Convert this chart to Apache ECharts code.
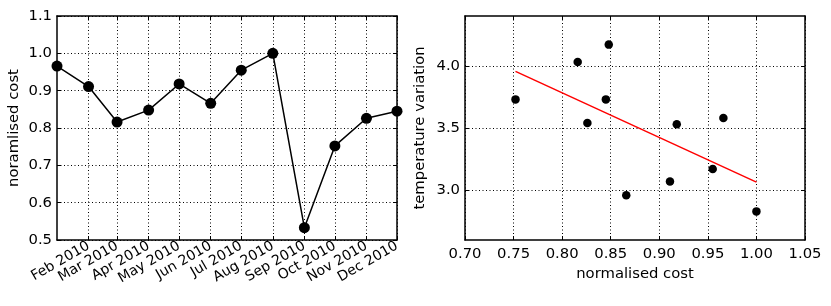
<!DOCTYPE html>
<html>
<head>
<meta charset="utf-8">
<script src="https://cdn.jsdelivr.net/npm/echarts@6/dist/echarts.min.js"></script>
<style>
html,body{margin:0;padding:0;background:#fff;}
#chart{width:831px;height:306px;}
</style>
</head>
<body>
<div id="chart"></div>
<script>
// ---- data ----
const months = ['2010-01-01','2010-02-01','2010-03-01','2010-04-01','2010-05-01','2010-06-01',
                '2010-07-01','2010-08-01','2010-09-01','2010-10-01','2010-11-01','2010-12-01'];
const costs = [0.966, 0.911, 0.816, 0.848, 0.918, 0.866, 0.955, 1.000, 0.533, 0.752, 0.826, 0.845];
const tempVariation = [3.58, 3.07, 4.03, 4.17, 3.53, 2.96, 3.17, 2.83, null, 3.73, 3.54, 3.73];
const fitX = [0.752, 1.000];
const fitY = [3.955, 3.065];
const monthTickDates = ['2010-02-01','2010-03-01','2010-04-01','2010-05-01','2010-06-01','2010-07-01',
                        '2010-08-01','2010-09-01','2010-10-01','2010-11-01','2010-12-01'];
const monthTickLabels = ['Feb 2010','Mar 2010','Apr 2010','May 2010','Jun 2010','Jul 2010',
                         'Aug 2010','Sep 2010','Oct 2010','Nov 2010','Dec 2010'];
const costTicks = [0.70, 0.75, 0.80, 0.85, 0.90, 0.95, 1.00, 1.05];
const tempTicks = [3.0, 3.5, 4.0];

// ---- build ----
function ts(s){ const p = s.split('-').map(Number); return Date.UTC(p[0], p[1]-1, p[2]); }
const monthTs = months.map(ts);
const tickTs = monthTickDates.map(ts);
const lineData = monthTs.map((t,i)=>[t, costs[i]]);
const scatterData = costs.map((c,i)=>[c, tempVariation[i]]).filter(p=>p[1]!=null);
const fitData = fitX.map((x,i)=>[x, fitY[i]]);

const FONT = 'DejaVu Sans';
const FS = 14.8;
const frame = {show:true, onZero:false, lineStyle:{color:'#000', width:1.5}};
const grid = {show:true, lineStyle:{color:'#000', width:1, type:[1,2.5]}};
const tick = {show:true, inside:true, length:4, lineStyle:{color:'#000', width:1}};
const lbl = {color:'#000', fontFamily:FONT, fontSize:FS};

const chart = echarts.init(document.getElementById('chart'), null, {renderer:'canvas'});
chart.setOption({
  animation:false,
  backgroundColor:'#fff',
  textStyle:{fontFamily:FONT},
  grid:[
    {left:57, top:16, width:340, height:224, containLabel:false},
    {left:465, top:16, width:340, height:224, containLabel:false}
  ],
  xAxis:[
    {gridIndex:0, type:'value', scale:true, min:monthTs[0], max:monthTs[monthTs.length-1], position:'bottom',
     axisLine:frame, splitLine:grid,
     axisTick:Object.assign({}, tick, {customValues:tickTs}),
     axisLabel:Object.assign({}, lbl, {fontSize:14, customValues:tickTs, rotate:30, margin:5, hideOverlap:false,
       formatter:function(v){ const i = tickTs.indexOf(v); return i>=0 ? monthTickLabels[i] : ''; }})},
    {gridIndex:0, type:'value', scale:true, min:monthTs[0], max:monthTs[monthTs.length-1], position:'top',
     axisLine:frame, splitLine:{show:false},
     axisTick:Object.assign({}, tick, {customValues:tickTs}), axisLabel:{show:false}},
    {gridIndex:1, type:'value', min:0.7, max:1.05, interval:0.05, position:'bottom',
     axisLine:frame, splitLine:grid, axisTick:tick,
     axisLabel:Object.assign({}, lbl, {margin:7, formatter:v=>v.toFixed(2)}),
     name:'normalised cost', nameLocation:'middle', nameGap:26,
     nameTextStyle:{color:'#000', fontFamily:FONT, fontSize:FS}},
    {gridIndex:1, type:'value', min:0.7, max:1.05, interval:0.05, position:'top',
     axisLine:frame, splitLine:{show:false}, axisTick:tick, axisLabel:{show:false}}
  ],
  yAxis:[
    {gridIndex:0, type:'value', min:0.5, max:1.1, interval:0.1, position:'left',
     axisLine:frame, splitLine:grid, axisTick:tick,
     axisLabel:Object.assign({}, lbl, {margin:5, formatter:v=>v.toFixed(1)}),
     name:'noramlised cost', nameLocation:'middle', nameGap:35,
     nameTextStyle:{color:'#000', fontFamily:FONT, fontSize:FS}},
    {gridIndex:0, type:'value', min:0.5, max:1.1, interval:0.1, position:'right',
     axisLine:frame, splitLine:{show:false}, axisTick:tick, axisLabel:{show:false}},
    {gridIndex:1, type:'value', min:2.6, max:4.4, position:'left',
     axisLine:frame, splitLine:grid,
     axisTick:Object.assign({}, tick, {customValues:tempTicks}),
     axisLabel:Object.assign({}, lbl, {margin:5, customValues:tempTicks, formatter:v=>v.toFixed(1)}),
     name:'temperature variation', nameLocation:'middle', nameGap:37,
     nameTextStyle:{color:'#000', fontFamily:FONT, fontSize:FS}},
    {gridIndex:1, type:'value', min:2.6, max:4.4, position:'right',
     axisLine:frame, splitLine:{show:false},
     axisTick:Object.assign({}, tick, {customValues:tempTicks}), axisLabel:{show:false}}
  ],
  series:[
    {type:'line', xAxisIndex:0, yAxisIndex:0, data:lineData, symbol:'circle', symbolSize:11,
     lineStyle:{color:'#000', width:1.5}, itemStyle:{color:'#000', opacity:1}, clip:true, z:3},
    {type:'scatter', xAxisIndex:2, yAxisIndex:2, data:scatterData, symbol:'circle', symbolSize:8.5,
     itemStyle:{color:'#000', opacity:1}, clip:true, z:3},
    {type:'line', xAxisIndex:2, yAxisIndex:2, data:fitData, symbol:'none',
     lineStyle:{color:'#ff0000', width:1.5}, z:2}
  ]
});
</script>
</body>
</html>
